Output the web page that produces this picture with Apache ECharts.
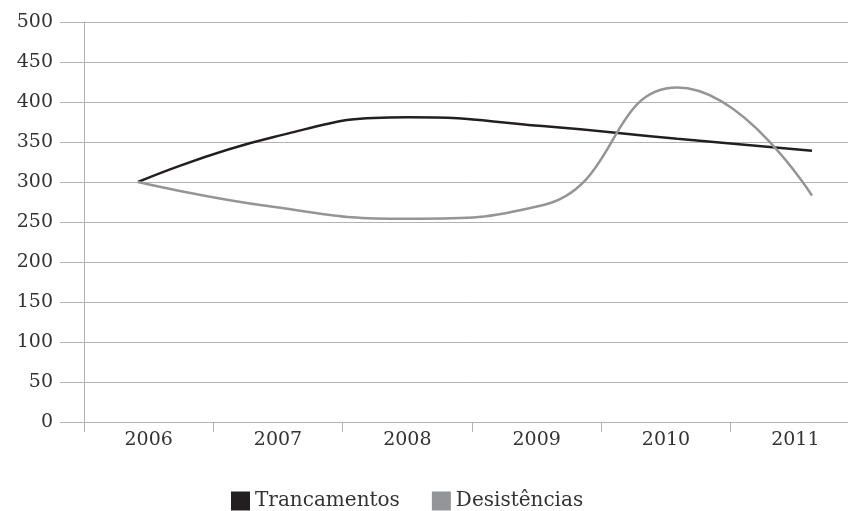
<!DOCTYPE html>
<html>
<head>
<meta charset="utf-8">
<script src="https://cdn.jsdelivr.net/npm/echarts@6/dist/echarts.min.js"></script>
<style>
  html, body { margin: 0; padding: 0; background: #fff; }
  #chart { width: 848px; height: 511px; }
</style>
</head>
<body>
<div id="chart"></div>
<script>
// anos e valores
const years = ['2006', '2007', '2008', '2009', '2010', '2011'];
const trancamentos = [300, 356, 381, 370, 354, 339];
const desistencias = [300, 269, 254, 271, 418, 283];
const yTicks = [0, 50, 100, 150, 200, 250, 300, 350, 400, 450, 500];

const font = 'DejaVu Serif';
const gridColor = '#b3b3b3';

const myChart = echarts.init(document.getElementById('chart'));

// pontos no eixo x oculto (índice do ano)
const toPoints = arr => arr.map((v, i) => [i, v]);

const options = {
  backgroundColor: '#fff',
  animation: false,
  // a área passa da borda direita, como no original
  grid: {
    left: 84, width: 776, top: 22, bottom: 89,
    containLabel: false,
    outerBoundsMode: 'none'
  },
  xAxis: [
    {
      type: 'category',
      data: years,
      boundaryGap: true,
      axisLine: { show: true, lineStyle: { color: gridColor, width: 1 } },
      axisTick: { show: true, length: 10, lineStyle: { color: gridColor } },
      axisLabel: { color: '#333', fontFamily: font, fontSize: 19, margin: 9 },
      splitLine: { show: false }
    },
    {
      // eixo auxiliar: posiciona os pontos como no original
      type: 'value',
      show: false,
      min: -0.4006,
      max: 5.356
    }
  ],
  yAxis: {
    type: 'value',
    min: yTicks[0],
    max: yTicks[yTicks.length - 1],
    interval: 50,
    axisLine: { show: true, onZero: false, lineStyle: { color: gridColor, width: 1 } },
    axisTick: { show: true, length: 24, lineStyle: { color: gridColor } },
    axisLabel: { color: '#333', fontFamily: font, fontSize: 19, margin: 31 },
    splitLine: { show: true, lineStyle: { color: gridColor, width: 1 } }
  },
  legend: {
    top: 486,
    left: 226,
    icon: 'rect',
    itemWidth: 19,
    itemHeight: 19,
    itemGap: 32,
    textStyle: { color: '#333', fontFamily: font, fontSize: 20 },
    data: ['Trancamentos', 'Desistências']
  },
  series: [
    {
      name: 'Trancamentos',
      type: 'line',
      xAxisIndex: 1,
      data: toPoints(trancamentos),
      smooth: 0.5,
      showSymbol: false,
      symbol: 'none',
      color: '#231f20',
      lineStyle: { color: '#231f20', width: 2.5 }
    },
    {
      name: 'Desistências',
      type: 'line',
      xAxisIndex: 1,
      data: toPoints(desistencias),
      smooth: 0.5,
      showSymbol: false,
      symbol: 'none',
      color: '#939598',
      lineStyle: { color: '#939598', width: 2.5 }
    }
  ]
};

myChart.setOption(options);
</script>
</body>
</html>
